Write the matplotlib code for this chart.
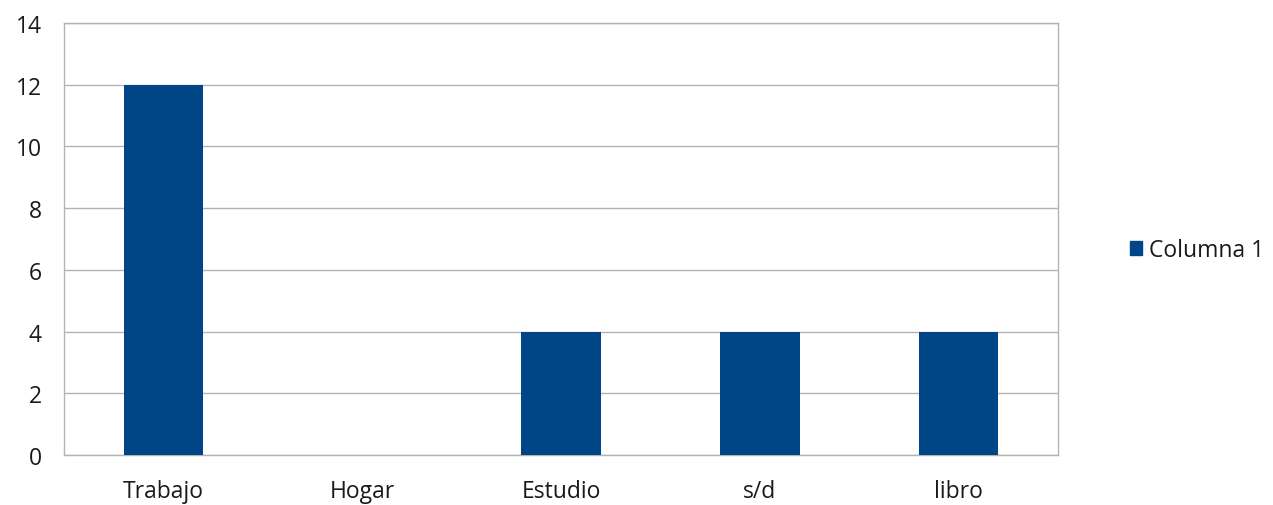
import matplotlib.pyplot as plt
from matplotlib.patches import Patch

categories = ['Trabajo', 'Hogar', 'Estudio', 's/d', 'libro']
columna_1 = [12, 0, 4, 4, 4]
y_ticks = [0, 2, 4, 6, 8, 10, 12, 14]

bar_color = '#004586'
grid_color = '#b3b3b3'

plt.rcParams['font.family'] = ['Open Sans', 'DejaVu Sans']

fig = plt.figure(figsize=(12.73, 5.06), dpi=100)
ax = fig.add_axes([0.0503, 0.0988, 0.7808, 0.8538])

x = range(len(categories))
ax.bar(x, columna_1, width=0.4, color=bar_color, zorder=3)

ax.set_xlim(-0.5, len(categories) - 0.5)
ax.set_ylim(0, 14)
ax.set_yticks(y_ticks)
ax.set_xticks(list(x))
ax.set_xticklabels(categories)
ax.yaxis.grid(True, color=grid_color, linewidth=1, zorder=0)
ax.tick_params(axis='both', length=0, labelsize=16.5, colors='#1a1a1a')
ax.tick_params(axis='y', pad=16)
ax.tick_params(axis='x', pad=17)
for s in ax.spines.values():
    s.set_color(grid_color)
    s.set_linewidth(1)

handles = [Patch(facecolor=bar_color, edgecolor=bar_color, label='Columna 1')]
fig.legend(handles=handles, loc='center left', bbox_to_anchor=(0.8785, 0.504),
           frameon=False, fontsize=16.5, handlelength=0.55, handleheight=0.55,
           handletextpad=0.3, borderpad=0, labelcolor='#1a1a1a')

fig.savefig('out.png', dpi=100)
